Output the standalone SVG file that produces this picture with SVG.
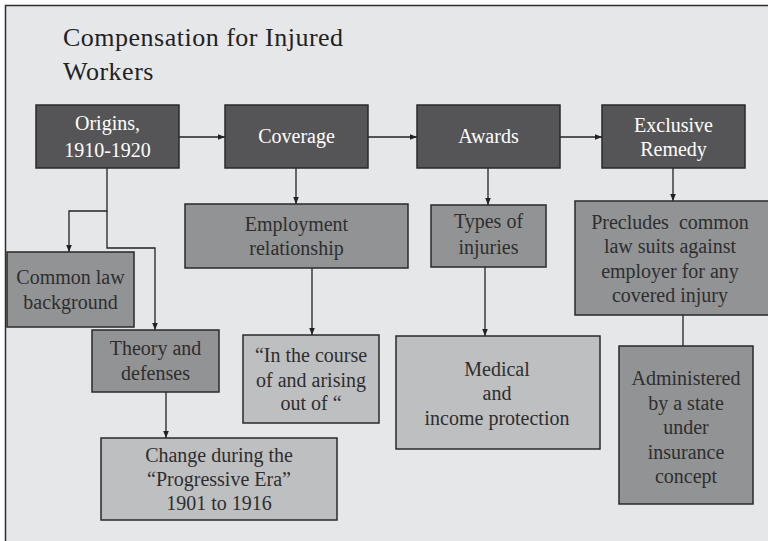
<svg xmlns="http://www.w3.org/2000/svg" width="768" height="541" viewBox="0 0 768 541">
  <style>
    .bg { fill: #e6e7e9; stroke: #2e2e2e; stroke-width: 1.5; }
    .box { stroke: #2a2a2a; stroke-width: 1.5; }
    .dark { fill: #555557; }
    .mid { fill: #929395; }
    .light { fill: #bebfc1; }
    text { font-family: "Liberation Serif", "Times New Roman", serif; font-size: 20px; text-anchor: middle; }
    .wt { fill: #ffffff; }
    .bt { fill: #2e2e2e; }
    text.title { font-family: "Liberation Serif", "Times New Roman", serif; font-size: 26px; text-anchor: start; fill: #222222; letter-spacing: 0.5px; }
    .conn { fill: none; stroke: #222222; stroke-width: 1.3; }
  </style>
  <defs>
    <marker id="arr" viewBox="0 0 10 10" refX="10" refY="5" markerWidth="7" markerHeight="7" markerUnits="userSpaceOnUse" orient="auto">
      <path d="M0,1 L10,5 L0,9 z" fill="#222222"/>
    </marker>
  </defs>

  <rect width="768" height="541" fill="#ffffff"/>
  <rect class="bg" x="5.5" y="5.5" width="800" height="600"/>

  <g id="title">
    <text class="title" x="63" y="46">Compensation for Injured</text>
    <text class="title" x="63" y="80">Workers</text>
  </g>

  <g id="connectors">
    <line class="conn" x1="179" y1="137" x2="225" y2="137" marker-end="url(#arr)"/>
    <line class="conn" x1="368" y1="137" x2="417" y2="137" marker-end="url(#arr)"/>
    <line class="conn" x1="560" y1="137" x2="602" y2="137" marker-end="url(#arr)"/>
    <path class="conn" d="M107,168 V211 H69 V252" marker-end="url(#arr)"/>
    <path class="conn" d="M107,211 V248 H155 V330" marker-end="url(#arr)"/>
    <line class="conn" x1="296" y1="168" x2="296" y2="204" marker-end="url(#arr)"/>
    <line class="conn" x1="312" y1="268" x2="312" y2="335" marker-end="url(#arr)"/>
    <line class="conn" x1="488" y1="168" x2="488" y2="205" marker-end="url(#arr)"/>
    <line class="conn" x1="485" y1="267" x2="485" y2="336" marker-end="url(#arr)"/>
    <line class="conn" x1="673" y1="168" x2="673" y2="201" marker-end="url(#arr)"/>
    <line class="conn" x1="683" y1="315" x2="683" y2="346"/>
    <line class="conn" x1="166" y1="392" x2="166" y2="438" marker-end="url(#arr)"/>
  </g>

  <g id="origins">
    <rect class="box dark" x="36" y="105" width="143" height="63"/>
    <text class="wt" x="107.5" y="130">Origins,</text>
    <text class="wt" x="107.5" y="157">1910-1920</text>
  </g>
  <g id="coverage">
    <rect class="box dark" x="225" y="105" width="143" height="63"/>
    <text class="wt" x="296.5" y="143">Coverage</text>
  </g>
  <g id="awards">
    <rect class="box dark" x="417" y="105" width="143" height="63"/>
    <text class="wt" x="488.5" y="143">Awards</text>
  </g>
  <g id="exclusive">
    <rect class="box dark" x="602" y="105" width="143" height="63"/>
    <text class="wt" x="673.5" y="132">Exclusive</text>
    <text class="wt" x="673.5" y="156">Remedy</text>
  </g>

  <g id="commonlaw">
    <rect class="box mid" x="7" y="252" width="127" height="75"/>
    <text class="bt" x="70.5" y="284">Common law</text>
    <text class="bt" x="70.5" y="309">background</text>
  </g>
  <g id="theory">
    <rect class="box mid" x="92" y="330" width="127" height="62"/>
    <text class="bt" x="155.5" y="355">Theory and</text>
    <text class="bt" x="155.5" y="380">defenses</text>
  </g>
  <g id="change">
    <rect class="box light" x="101" y="438" width="236" height="82"/>
    <text class="bt" x="219" y="462">Change during the</text>
    <text class="bt" x="219" y="486">“Progressive Era”</text>
    <text class="bt" x="219" y="510">1901 to 1916</text>
  </g>
  <g id="employment">
    <rect class="box mid" x="185" y="204" width="223" height="64"/>
    <text class="bt" x="296.5" y="231">Employment</text>
    <text class="bt" x="296.5" y="255">relationship</text>
  </g>
  <g id="course">
    <rect class="box light" x="243" y="335" width="136" height="88"/>
    <text class="bt" x="311" y="362">“In the course</text>
    <text class="bt" x="311" y="387">of and arising</text>
    <text class="bt" x="311" y="410">out of “</text>
  </g>
  <g id="types">
    <rect class="box mid" x="431" y="205" width="115" height="62"/>
    <text class="bt" x="488.5" y="228">Types of</text>
    <text class="bt" x="488.5" y="254">injuries</text>
  </g>
  <g id="medical">
    <rect class="box light" x="396" y="336" width="204" height="113"/>
    <text class="bt" x="497" y="376">Medical</text>
    <text class="bt" x="497" y="400">and</text>
    <text class="bt" x="497" y="425">income protection</text>
  </g>
  <g id="precludes">
    <rect class="box mid" x="575" y="201" width="200" height="114"/>
    <text class="bt" x="670" y="229" xml:space="preserve">Precludes  common</text>
    <text class="bt" x="670" y="253">law suits against</text>
    <text class="bt" x="670" y="278">employer for any</text>
    <text class="bt" x="670" y="302">covered injury</text>
  </g>
  <g id="administered">
    <rect class="box mid" x="619" y="346" width="134" height="158"/>
    <text class="bt" x="686" y="385">Administered</text>
    <text class="bt" x="686" y="410">by a state</text>
    <text class="bt" x="686" y="434">under</text>
    <text class="bt" x="686" y="459">insurance</text>
    <text class="bt" x="686" y="483">concept</text>
  </g>
</svg>
